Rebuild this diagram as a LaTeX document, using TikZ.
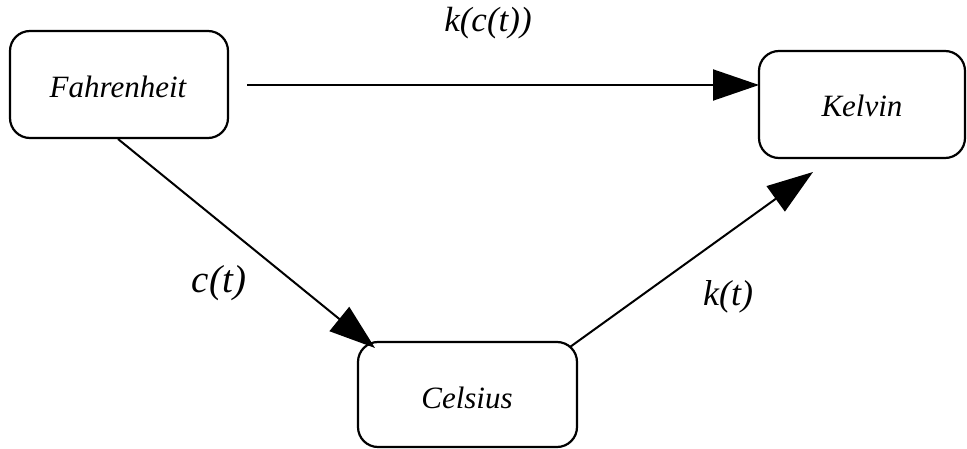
\documentclass[tikz,border=0pt]{standalone}
\usepackage{fontspec}
\setmainfont{Liberation Serif}
\usetikzlibrary{arrows.meta}
\begin{document}
\begin{tikzpicture}[x=1pt,y=-1pt,
  statebox/.style={draw,line width=2.2pt,rounded corners=20pt,inner sep=0pt},
  conn/.style={line width=2pt,-{Triangle[length=46pt,width=31pt]}},
  nodetext/.style={font=\fontsize{31}{36}\selectfont\itshape},
  lbl/.style={font=\fontsize{#1}{#1}\selectfont\itshape}]
\useasboundingbox (0,0) rectangle (967,449);
\draw[statebox] (10,31) rectangle (228,138);
\node[nodetext] (F) at (118,87) {Fahrenheit};
\draw[statebox] (759,51) rectangle (965,158);
\node[nodetext] (K) at (862,106) {Kelvin};
\draw[statebox] (358,342) rectangle (577,447);
\node[nodetext] (C) at (467,398) {Celsius};
\coordinate (fk1) at (247,85);
\coordinate (fk2) at (759,85);
\coordinate (fc1) at (118,139);
\coordinate (fc2) at (375,348);
\coordinate (ck1) at (570,347);
\coordinate (ck2) at (813,172);
\draw[conn] (fk1) -- (fk2);
\draw[conn] (fc1) -- (fc2);
\draw[conn] (ck1) -- (ck2);
\node[lbl=35] (l1) at (488,23) {k(c(t))};
\node[lbl=39] (l2) at (219,283) {c(t)};
\node[lbl=36] (l3) at (728,297) {k(t)};
\end{tikzpicture}
\end{document}
